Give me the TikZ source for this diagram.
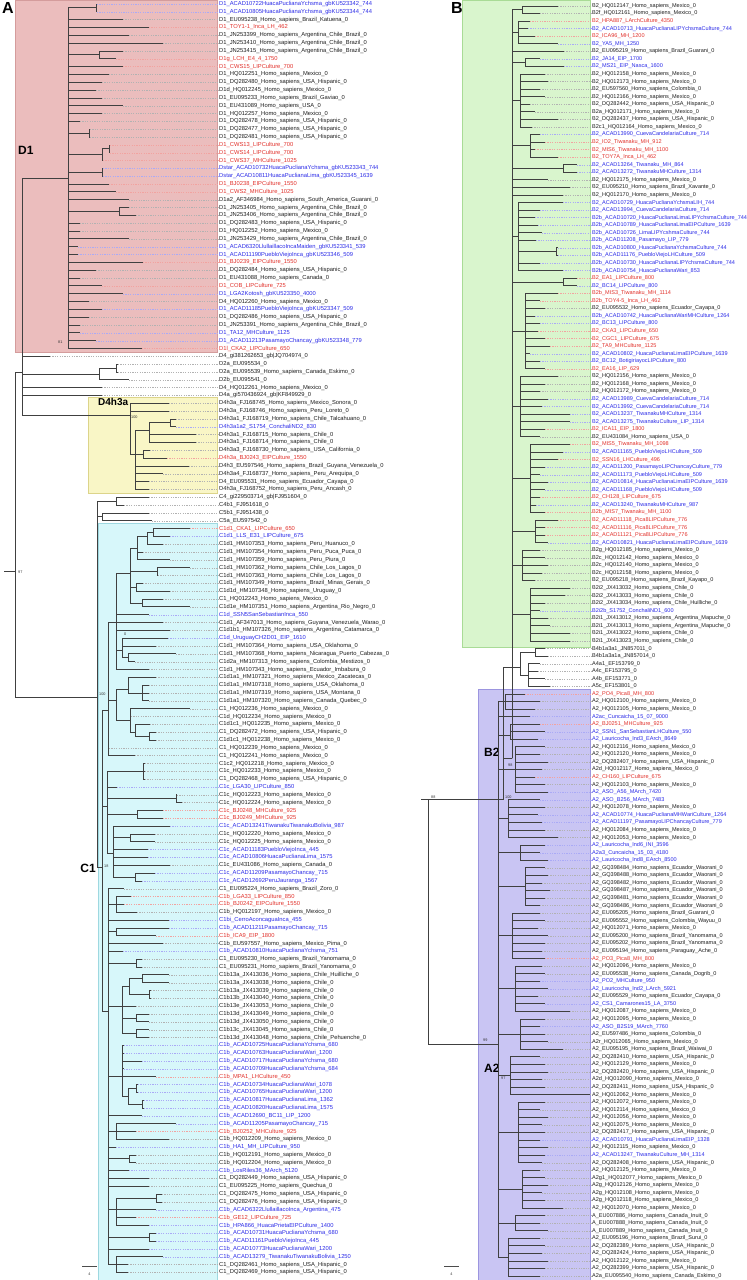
\documentclass[tikz,border=0pt]{standalone}
\usepackage{fontspec}
\setmainfont{Liberation Sans}
\definecolor{labr}{HTML}{E2322C}
\definecolor{labb}{HTML}{2B2BE8}
\definecolor{labk}{HTML}{1E1E1E}
\colorlet{leadr}{labr!45}
\colorlet{leadb}{labb!40}
\colorlet{leadk}{black!30}
\definecolor{pinkF}{HTML}{EBBDBD}\definecolor{pinkD}{HTML}{D49C9C}
\definecolor{yelF}{HTML}{F9F6C6}\definecolor{yelD}{HTML}{DCD48A}
\definecolor{cyanF}{HTML}{D7F7FA}\definecolor{cyanD}{HTML}{9ED8E0}
\definecolor{greenF}{HTML}{D9F5CD}\definecolor{greenD}{HTML}{A9DB96}
\definecolor{purpF}{HTML}{C9C5F3}\definecolor{purpD}{HTML}{9C95DF}
\tikzset{
 br/.style={draw=black!75, line width=0.85pt},
 lead/.style={line width=0.35pt, dash pattern=on 1.2pt off 1.2pt},
 lblL/.style={anchor=west, inner sep=0pt, font=\fontsize{5.8}{6}\selectfont},
 lblR/.style={anchor=west, inner sep=0pt, font=\fontsize{5.55}{6}\selectfont},
 boot/.style={inner sep=0pt, anchor=west, font=\fontsize{3.8}{4}\selectfont, text=black!80},
 clade/.style={inner sep=0pt, font=\fontsize{12}{12}\selectfont\bfseries},
 panel/.style={inner sep=0pt, anchor=north west, font=\fontsize{16}{16}\selectfont\bfseries},
 boxline/.style={line width=0.4pt}
}
\newcommand\kids[2]{\foreach \cc in {#2}{\draw[br] (#1) |- (\cc);}}
\newcommand\kidsr[3]{\foreach \ii in {#2,...,#3}{\draw[br] (#1) |- (RL\ii);}}
\begin{document}
\catcode`\_=12
\begin{tikzpicture}
\fill[white] (0pt,0pt) rectangle (747pt,1280pt);
\useasboundingbox (0pt,0pt) rectangle (747pt,1280pt);
% ---------- boxes and big labels (pixel coordinates) ----------
\begin{scope}[x=1pt,y=-1pt,yshift=1280pt]
\filldraw[boxline, fill=pinkF, draw=pinkD] (15,0) rectangle (217,352);
\filldraw[boxline, fill=yelF, draw=yelD] (88,397) rectangle (217,493);
\filldraw[boxline, fill=cyanF, draw=cyanD] (98,523) rectangle (217,1280);
\filldraw[boxline, fill=greenF, draw=greenD] (462,0) rectangle (590,647);
\filldraw[boxline, fill=purpF, draw=purpD] (478,689) rectangle (590,1280);
\node[panel] (pA) at (2,2) {A};
\node[panel] (pB) at (451,2) {B};
\node[clade, anchor=west] (cD1) at (18,150) {D1};
\node[clade, anchor=west, font=\fontsize{10}{10}\selectfont\bfseries] (cD4) at (98,402) {D4h3a};
\node[clade, anchor=east] (cC1) at (96,868) {C1};
\node[clade, anchor=west] (cB2) at (484,752) {B2};
\node[clade, anchor=west] (cA2) at (484,1068) {A2};
\node[boot] (b81) at (58,342) {81};
\node[boot] (b100a) at (131,417) {100};
\node[boot] (b97a) at (18,572) {97};
\node[boot] (b100b) at (99,694) {100};
\node[boot] (b18) at (104,866) {18};
\node[boot] (b0) at (124,634) {0};
\node[boot] (b98) at (508,765) {98};
\node[boot] (b100c) at (505,797) {100};
\node[boot] (b88) at (431,797) {88};
\node[boot] (b99) at (483,1040) {99};
\node[boot] (b97b) at (501,1078) {97};
\coordinate (sL1) at (82,1266); \coordinate (sL2) at (97,1266);
\draw[line width=0.6pt, black!70] (sL1) -- (sL2);
\node[boot, anchor=center] (sL) at (89.5,1274) {4};
\coordinate (sR1) at (444,1266); \coordinate (sR2) at (459,1266);
\draw[line width=0.6pt, black!70] (sR1) -- (sR2);
\node[boot, anchor=center] (sR) at (451.5,1274) {4};
\end{scope}
% ---------- LEFT TREE ----------
\begin{scope}[x=1pt,y=-7.83pt,yshift=1283.83pt]
\foreach \k/\t/\cl/\s in {
1/97/b/D1_ACAD10722HuacaPuclianaYchsma_gbKU523342_744,
2/97/b/D1_ACAD10805HuacaPuclianaYchsma_gbKU523344_744,
3/123/k/D1_EU095238_Homo_sapiens_Brazil_Katuena_0,
4/149/r/D1_TOY1-1_Inca_LH_462,
5/129/k/D1_JN253399_Homo_sapiens_Argentina_Chile_Brazil_0,
6/163/k/D1_JN253410_Homo_sapiens_Argentina_Chile_Brazil_0,
7/123/k/D1_JN253415_Homo_sapiens_Argentina_Chile_Brazil_0,
8/116/r/D1g_LCH_E4_4_1750,
9/123/r/D1_CWS15_LIPCulture_700,
10/109/k/D1_HQ012251_Homo_sapiens_Mexico_0,
11/102/k/D1_DQ282480_Homo_sapiens_USA_Hispanic_0,
12/96/k/D1d_HQ012245_Homo_sapiens_Mexico_0,
13/102/k/D1_EU095233_Homo_sapiens_Brazil_Gaviao_0,
14/123/k/D1_EU431089_Homo_sapiens_USA_0,
15/102/k/D1_HQ012257_Homo_sapiens_Mexico_0,
16/80/k/D1_DQ282478_Homo_sapiens_USA_Hispanic_0,
17/90/k/D1_DQ282477_Homo_sapiens_USA_Hispanic_0,
18/90/k/D1_DQ282481_Homo_sapiens_USA_Hispanic_0,
19/110/r/D1_CWS13_LIPCulture_700,
20/110/r/D1_CWS14_LIPCulture_700,
21/103/r/D1_CWS37_MHCulture_1025,
22/103/b/Dstar_ACAD10732HuacaPuclianaYchsma_gbKU523343_744,
23/103/b/Dstar_ACAD10811HuacaPuclianaLima_gbKU523345_1639,
24/109/r/D1_BJ0238_EIPCulture_1550,
25/116/r/D1_CWS2_MHCulture_1025,
26/129/k/D1a2_AF346984_Homo_sapiens_South_America_Guarani_0,
27/129/k/D1_JN253405_Homo_sapiens_Argentina_Chile_Brazil_0,
28/136/k/D1_JN253406_Homo_sapiens_Argentina_Chile_Brazil_0,
29/80/k/D1_DQ282483_Homo_sapiens_USA_Hispanic_0,
30/80/k/D1_HQ012252_Homo_sapiens_Mexico_0,
31/129/k/D1_JN253429_Homo_sapiens_Argentina_Chile_Brazil_0,
32/78/b/D1_ACAD6320LlullaillacoIncaMaiden_gbKU523341_539,
33/78/b/D1_ACAD11190PuebloViejoInca_gbKU523346_509,
34/143/r/D1_BJ0239_EIPCulture_1550,
35/96/k/D1_DQ282484_Homo_sapiens_USA_Hispanic_0,
36/80/k/D1_EU431088_Homo_sapiens_Canada_0,
37/102/r/D1_COB_LIPCulture_725,
38/123/b/D1_LGA2Kotosh_gbKU523350_4000,
39/89/k/D4_HQ012260_Homo_sapiens_Mexico_0,
40/102/b/D1_ACAD11185PuebloViejoInca_gbKU523347_509,
41/89/k/D1_DQ282486_Homo_sapiens_USA_Hispanic_0,
42/80/k/D1_JN253391_Homo_sapiens_Argentina_Chile_Brazil_0,
43/80/b/D1_TA12_MHCulture_1125,
44/96/b/D1_ACAD11213PasamayoChancay_gbKU523348_779,
45/142/r/D1l_CKA2_LIPCulture_650,
46/50/k/D4_gi381262653_gb|JQ704974_0,
47/118/k/D2a_EU095534_0,
48/118/k/D2a_EU095539_Homo_sapiens_Canada_Eskimo_0,
49/129/k/D2b_EU095541_0,
50/102/k/D4_HQ012261_Homo_sapiens_Mexico_0,
51/102/k/D4a_gi570436924_gb|KF849929_0,
52/169/k/D4h3a_FJ168745_Homo_sapiens_Mexico_Sonora_0,
53/169/k/D4h3a_FJ168746_Homo_sapiens_Peru_Loreto_0,
54/176/k/D4h3a1_FJ168719_Homo_sapiens_Chile_Talcahuano_0,
55/176/b/D4h3a1a2_S1754_ConchaliND2_830,
56/196/k/D4h3a1_FJ168715_Homo_sapiens_Chile_0,
57/196/k/D4h3a1_FJ168714_Homo_sapiens_Chile_0,
58/150/k/D4h3a3_FJ168730_Homo_sapiens_USA_California_0,
59/167/r/D4h3a_BJ0243_EIPCulture_1550,
60/189/k/D4h3_EU597546_Homo_sapiens_Brazil_Guyana_Venezuela_0,
61/163/k/D4h3a4_FJ168737_Homo_sapiens_Peru_Arequipa_0,
62/149/k/D4_EU095531_Homo_sapiens_Ecuador_Cayapa_0,
63/149/k/D4h3a_FJ168752_Homo_sapiens_Peru_Ancash_0,
64/149/k/C4_gi229503714_gb|FJ951604_0,
65/124/k/C4b1_FJ951618_0,
66/149/k/C5b1_FJ951438_0,
67/152/k/C5a_EU597542_0,
68/190/r/C1d1_CKA1_LIPCulture_650,
69/170/b/C1d1_LLS_E31_LIPCulture_675,
70/163/k/C1d1_HM107353_Homo_sapiens_Peru_Huanuco_0,
71/143/k/C1d1_HM107354_Homo_sapiens_Peru_Puca_Puca_0,
72/170/k/C1d1_HM107359_Homo_sapiens_Peru_Piura_0,
73/190/k/C1d1_HM107362_Homo_sapiens_Chile_Los_Lagos_0,
74/158/k/C1d1_HM107363_Homo_sapiens_Chile_Los_Lagos_0,
75/143/k/C1d1_HM107349_Homo_sapiens_Brazil_Minas_Gerais_0,
76/170/k/C1d1d_HM107348_Homo_sapiens_Uruguay_0,
77/163/k/C1_HQ012243_Homo_sapiens_Mexico_0,
78/190/k/C1d1e_HM107351_Homo_sapiens_Argentina_Rio_Negro_0,
79/149/b/C1d_SSN5SanSebastianInca_550,
80/163/k/C1d1_AF347013_Homo_sapiens_Guyana_Venezuela_Warao_0,
81/170/k/C1d1b1_HM107326_Homo_sapiens_Argentina_Catamarca_0,
82/168/b/C1d_UruguayCH2D01_EIP_1610,
83/156/k/C1d1_HM107364_Homo_sapiens_USA_Oklahoma_0,
84/176/k/C1d1_HM107368_Homo_sapiens_Nicaragua_Puerto_Cabezas_0,
85/135/k/C1d2a_HM107313_Homo_sapiens_Colombia_Mestizos_0,
86/149/k/C1d1_HM107343_Homo_sapiens_Ecuador_Imbabura_0,
87/156/k/C1d1a1_HM107321_Homo_sapiens_Mexico_Zacatecas_0,
88/149/k/C1d1a1_HM107318_Homo_sapiens_USA_Oklahoma_0,
89/149/k/C1d1a1_HM107319_Homo_sapiens_USA_Montana_0,
90/149/k/C1d1a1_HM107320_Homo_sapiens_Canada_Quebec_0,
91/190/k/C1_HQ012236_Homo_sapiens_Mexico_0,
92/131/k/C1d_HQ012234_Homo_sapiens_Mexico_0,
93/150/k/C1d1c1_HQ012235_Homo_sapiens_Mexico_0,
94/156/k/C1_DQ282472_Homo_sapiens_USA_Hispanic_0,
95/156/k/C1d1c1_HQ012238_Homo_sapiens_Mexico_0,
96/109/k/C1_HQ012239_Homo_sapiens_Mexico_0,
97/135/k/C1_HQ012241_Homo_sapiens_Mexico_0,
98/145/k/C1c2_HQ012218_Homo_sapiens_Mexico_0,
99/145/k/C1c_HQ012233_Homo_sapiens_Mexico_0,
100/145/k/C1_DQ282468_Homo_sapiens_USA_Hispanic_0,
101/117/b/C1c_LGA30_LIPCulture_850,
102/177/k/C1c_HQ012223_Homo_sapiens_Mexico_0,
103/182/k/C1c_HQ012224_Homo_sapiens_Mexico_0,
104/163/r/C1c_BJ0248_MHCulture_925,
105/163/r/C1c_BJ0249_MHCulture_925,
106/170/b/C1c_ACAD13241TiwanakuTiwanakuBolivia_987,
107/155/k/C1c_HQ012220_Homo_sapiens_Mexico_0,
108/155/k/C1c_HQ012225_Homo_sapiens_Mexico_0,
109/148/b/C1c_ACAD11183PuebloViejoInca_445,
110/148/b/C1c_ACAD10806HuacaPuclianaLima_1575,
111/170/k/C1c_EU431086_Homo_sapiens_Canada_0,
112/155/b/C1c_ACAD11209PasamayoChancay_715,
113/142/b/C1c_ACAD12692PeruJauranga_1567,
114/124/k/C1_EU095224_Homo_sapiens_Brazil_Zoro_0,
115/131/r/C1b_LGA33_LIPCulture_850,
116/124/r/C1b_BJ0242_EIPCulture_1550,
117/137/k/C1b_HQ012197_Homo_sapiens_Mexico_0,
118/169/b/C1bi_CerroAconcaguaInca_455,
119/169/b/C1b_ACAD11211PasamayoChancay_715,
120/156/r/C1b_ICA9_EIP_1800,
121/163/k/C1b_EU597557_Homo_sapiens_Mexico_Pima_0,
122/123/b/C1b_ACAD10810HuacaPuclianaYchsma_751,
123/142/k/C1_EU095230_Homo_sapiens_Brazil_Yanomama_0,
124/142/k/C1_EU095231_Homo_sapiens_Brazil_Yanomama_0,
125/169/k/C1b13a_JX413036_Homo_sapiens_Chile_Huilliche_0,
126/169/k/C1b13a_JX413038_Homo_sapiens_Chile_0,
127/151/k/C1b13a_JX413039_Homo_sapiens_Chile_0,
128/151/k/C1b13b_JX413040_Homo_sapiens_Chile_0,
129/136/k/C1b13e_JX413053_Homo_sapiens_Chile_0,
130/149/k/C1b13d_JX413049_Homo_sapiens_Chile_0,
131/149/k/C1b13d_JX413050_Homo_sapiens_Chile_0,
132/149/k/C1b13c_JX413045_Homo_sapiens_Chile_0,
133/149/k/C1b13d_JX413048_Homo_sapiens_Chile_Pehuenche_0,
134/124/b/C1b_ACAD10725HuacaPuclianaYchsma_680,
135/124/b/C1b_ACAD10763HuacaPuclianaWari_1200,
136/142/b/C1b_ACAD10717HuacaPuclianaYchsma_680,
137/124/b/C1b_ACAD10709HuacaPuclianaYchsma_684,
138/156/r/C1b_MPA1_LHCulture_450,
139/138/b/C1b_ACAD10734HuacaPuclianaWari_1078,
140/138/b/C1b_ACAD10765HuacaPuclianaWari_1200,
141/144/b/C1b_ACAD10817HuacaPuclianaLima_1362,
142/144/b/C1b_ACAD10820HuacaPuclianaLima_1575,
143/142/b/C1b_ACAD12690_BC11_LIP_1200,
144/176/b/C1b_ACAD11205PasamayoChancay_715,
145/136/r/C1b_BJ0252_MHCulture_925,
146/169/k/C1b_HQ012209_Homo_sapiens_Mexico_0,
147/116/b/C1b_HA1_MH_LIPCulture_950,
148/136/k/C1b_HQ012191_Homo_sapiens_Mexico_0,
149/136/k/C1b_HQ012204_Homo_sapiens_Mexico_0,
150/129/b/C1b_LosRiles36_MArch_5120,
151/149/k/C1_DQ282449_Homo_sapiens_USA_Hispanic_0,
152/149/k/C1_EU095225_Homo_sapiens_Quechua_0,
153/162/k/C1_DQ282475_Homo_sapiens_USA_Hispanic_0,
154/162/k/C1_DQ282476_Homo_sapiens_USA_Hispanic_0,
155/156/b/C1b_ACAD6322LlullaillacoInca_Argentina_475,
156/136/r/C1b_GE12_LIPCulture_725,
157/149/b/C1b_HPA866_HuacaPrietaEIPCulture_1400,
158/156/b/C1b_ACAD10731HuacaPuclianaYchsma_680,
159/156/b/C1b_ACAD11161PuebloViejoInca_445,
160/149/b/C1b_ACAD10773HuacaPuclianaWari_1200,
161/163/b/C1b_ACAD13279_TiwanakuTiwanakuBolivia_1250,
162/128/k/C1_DQ282461_Homo_sapiens_USA_Hispanic_0,
163/128/k/C1_DQ282469_Homo_sapiens_USA_Hispanic_0}{
  \coordinate (L\k) at (\t,\k);
  \node[lblL, text=lab\cl] (T\k) at (219,\k) {\s};
  \draw[lead, draw=lead\cl] (L\k) -- (T\k.west);
}
\coordinate (R0) at (4,73.5);
\coordinate (R) at (15,73.5);
\coordinate (ND) at (22,48);
\coordinate (ND1) at (68,23.25);
\coordinate (P12) at (96,1.5);
\coordinate (P78) at (99,7.5);
\coordinate (P1718) at (89,17.5);
\coordinate (T1921) at (102,20.25);
\coordinate (P1920) at (109,19.5);
\coordinate (P2223) at (102,22.5);
\coordinate (P2728) at (119,27.5);
\coordinate (ND2) at (99,48.25);
\coordinate (P4748) at (116,47.5);
\coordinate (NDh) at (130,53.5);
\coordinate (Dh1) at (135,58.5);
\coordinate (Dh2) at (149,55.5);
\coordinate (Dh2a) at (170,54.5);
\coordinate (Dh3) at (143,58.5);
\coordinate (NC) at (97,89.5);
\coordinate (NC4) at (116,64.5);
\coordinate (NC5) at (102,66.5);
\coordinate (NC1) at (102,111.3);
\coordinate (Cd0) at (108,91.2);
\coordinate (Cd1) at (116,80);
\coordinate (Cd2) at (130,73.75);
\coordinate (Cd2a) at (137,70.5);
\coordinate (Cd2b) at (147,69);
\coordinate (Cd2c) at (153,68.5);
\coordinate (Cd2d) at (157,73.5);
\coordinate (Cd2e) at (136,75.5);
\coordinate (Cd2f) at (142,77.5);
\coordinate (Cd3) at (122,83.5);
\coordinate (Cd3a) at (128,84.5);
\coordinate (Cd5) at (116,90);
\coordinate (Cd4) at (128,88.5);
\coordinate (Cd4a) at (142,89);
\coordinate (Cd6) at (130,92.5);
\coordinate (Cd6a) at (135,94);
\coordinate (Cd6b) at (149,94.5);
\coordinate (NC1c) at (107,103.5);
\coordinate (Cc1) at (143,99);
\coordinate (Cc2) at (176,102.5);
\coordinate (Cc3) at (137,104.5);
\coordinate (Cc4) at (113,109.5);
\coordinate (Cc4a) at (130,107.5);
\coordinate (Cc4b) at (135,112.5);
\coordinate (NCb) at (108,129.7);
\coordinate (Cb1) at (116,116);
\coordinate (Cb2) at (116,119.5);
\coordinate (Cb3) at (136,123.5);
\coordinate (C13) at (122,129);
\coordinate (C13a) at (129,126.5);
\coordinate (C13aa) at (142,125.5);
\coordinate (C13ab) at (149,127.5);
\coordinate (C13c) at (136,130.5);
\coordinate (C13d) at (136,132.5);
\coordinate (C1bW) at (122,138);
\coordinate (C1bW2) at (128,140.5);
\coordinate (Pw1) at (136,139.5);
\coordinate (Pw2) at (142,141.5);
\coordinate (Cb4) at (116,145);
\coordinate (Cb5) at (129,148.5);
\coordinate (Cb6) at (116,155);
\coordinate (Cb6a) at (156,153.5);
\coordinate (Cb7) at (149,158.5);
\coordinate (Cb8) at (116,162);
\draw[br] (R0) -- (R);
\kids{R}{ND,NC}
\kids{ND}{ND1,L46,ND2,L50,L51,NDh}
\kids{ND1}{P12,L3,L4,L5,L6,P78,L9,L10,L11,L12,L13,L14,L15,L16,P1718,T1921,P2223,L24,L25,L26,P2728,L29,L30,L31,L32,L33,L34,L35,L36,L37,L38,L39,L40,L41,L42,L43,L44,L45}
\kids{P12}{L1,L2}
\kids{P78}{L7,L8}
\kids{P1718}{L17,L18}
\kids{T1921}{P1920,L21}
\kids{P1920}{L19,L20}
\kids{P2223}{L22,L23}
\kids{P2728}{L27,L28}
\kids{ND2}{P4748,L49}
\kids{P4748}{L47,L48}
\kids{NDh}{L52,L53,Dh1}
\kids{Dh1}{Dh2,Dh3,L60,L61,L62,L63}
\kids{Dh2}{Dh2a,L56,L57}
\kids{Dh2a}{L54,L55}
\kids{Dh3}{L58,L59}
\kids{NC}{NC4,NC5,NC1}
\kids{NC4}{L64,L65}
\kids{NC5}{L66,L67}
\kids{NC1}{Cd0,NC1c,NCb}
\kids{Cd0}{Cd1,Cd5,L96,L97}
\kids{Cd1}{Cd2,L79,L80,L81,Cd3,L86}
\kids{Cd2}{Cd2a,Cd2d,Cd2e,Cd2f}
\kids{Cd2a}{Cd2b,L71,L72}
\kids{Cd2b}{Cd2c,L70}
\kids{Cd2c}{L68,L69}
\kids{Cd2d}{L73,L74}
\kids{Cd2e}{L75,L76}
\kids{Cd2f}{L77,L78}
\kids{Cd3}{L82,L83,Cd3a}
\kids{Cd3a}{L84,L85}
\kids{Cd5}{Cd4,Cd6}
\kids{Cd4}{L87,Cd4a}
\kids{Cd4a}{L88,L89,L90}
\kids{Cd6}{L91,L92,Cd6a}
\kids{Cd6a}{L93,Cd6b}
\kids{Cd6b}{L94,L95}
\kids{NC1c}{Cc1,L101,Cc2,Cc3,Cc4}
\kids{Cc1}{L98,L99,L100}
\kids{Cc2}{L102,L103}
\kids{Cc3}{L104,L105}
\kids{Cc4}{L106,Cc4a,L109,L110,L111,Cc4b}
\kids{Cc4a}{L107,L108}
\kids{Cc4b}{L112,L113}
\kids{NCb}{L114,Cb1,L118,Cb2,L121,L122,Cb3,C13,C1bW,L143,Cb4,L147,Cb5,L150,L151,L152,Cb6,Cb7,L160,Cb8}
\kids{Cb1}{L115,L116,L117}
\kids{Cb2}{L119,L120}
\kids{Cb3}{L123,L124}
\kids{C13}{C13a,L129,C13c,C13d}
\kids{C13a}{C13aa,C13ab}
\kids{C13aa}{L125,L126}
\kids{C13ab}{L127,L128}
\kids{C13c}{L130,L131}
\kids{C13d}{L132,L133}
\kids{C1bW}{L134,L135,L136,L137,L138,C1bW2}
\kids{C1bW2}{Pw1,Pw2}
\kids{Pw1}{L139,L140}
\kids{Pw2}{L141,L142}
\kids{Cb4}{L144,L145,L146}
\kids{Cb5}{L148,L149}
\kids{Cb6}{Cb6a,L155,L156,L157}
\kids{Cb6a}{L153,L154}
\kids{Cb7}{L158,L159}
\kids{Cb8}{L161,L162,L163}
\end{scope}
% ---------- RIGHT TREE ----------
\begin{scope}[x=1pt,y=-7.56pt,yshift=1281.56pt]
\foreach \k/\t/\cl/\s in {
1/558/k/B2_HQ012147_Homo_sapiens_Mexico_0,
2/540/k/B2f_HQ012161_Homo_sapiens_Mexico_0,
3/530/r/B2_HPA887_LArchCulture_4350,
4/528/b/B2_ACAD10713_HuacaPuclianaLIPYchsmaCulture_744,
5/535/r/B2_ICA96_MH_1200,
6/558/b/B2_YA5_MH_1250,
7/564/k/B2_EU095219_Homo_sapiens_Brazil_Guarani_0,
8/540/b/B2_JA14_EIP_1700,
9/564/b/B2_MS21_EIP_Nasca_1600,
10/545/k/B2_HQ012158_Homo_sapiens_Mexico_0,
11/548/k/B2_HQ012173_Homo_sapiens_Mexico_0,
12/540/k/B2_EU597560_Homo_sapiens_Colombia_0,
13/545/k/B2_HQ012166_Homo_sapiens_Mexico_0,
14/530/k/B2_DQ282442_Homo_sapiens_USA_Hispanic_0,
15/535/k/B2a_HQ012171_Homo_sapiens_Mexico_0,
16/558/k/B2_DQ282437_Homo_sapiens_USA_Hispanic_0,
17/532/k/B2c1_HQ012164_Homo_sapiens_Mexico_0,
18/540/b/B2_ACAD13990_CuevaCandelariaCulture_714,
19/545/r/B2_IO2_Tiwanaku_MH_912,
20/535/r/B2_MIS6_Tiwanaku_MH_1100,
21/558/r/B2_TOY7A_Inca_LH_462,
22/577/b/B2_ACAD13264_Tiwanaku_MH_864,
23/577/b/B2_ACAD13272_TiwanakuMHCulture_1314,
24/548/k/B2_HQ012175_Homo_sapiens_Mexico_0,
25/570/k/B2_EU095210_Homo_sapiens_Brazil_Xavante_0,
26/563/k/B2_HQ012170_Homo_sapiens_Mexico_0,
27/563/b/B2_ACAD10729_HuacaPuclianaYchsmaLIH_744,
28/540/b/B2_ACAD13994_CuevaCandelariaCulture_714,
29/535/b/B2b_ACAD10720_HuacaPuclianaLimaLIPYchsmaCulture_744,
30/538/b/B2b_ACAD10789_HuacaPuclianaLimaEIPCulture_1639,
31/542/b/B2b_ACAD10726_LimaLIPYcshmaCulture_744,
32/536/b/B2b_ACAD11208_Pasamayo_LIP_779,
33/558/b/B2b_ACAD10800_HuacaPuclianaYchsmaCulture_744,
34/558/b/B2b_ACAD11176_PuebloViejoLHCulture_509,
35/540/b/B2b_ACAD10730_HuacaPuclianaLIPYchsmaCulture_744,
36/563/b/B2b_ACAD10754_HuacaPuclianaWari_853,
37/577/r/B2_EA1_LIPCulture_800,
38/577/b/B2_BC14_LIPCulture_800,
39/558/r/B2b_MIS3_Tiwanaku_MH_1114,
40/540/r/B2b_TOY4-5_Inca_LH_462,
41/545/k/B2_EU095532_Homo_sapiens_Ecuador_Cayapa_0,
42/535/b/B2b_ACAD10742_HuacaPuclianaWariMHCulture_1264,
43/540/b/B2_BC13_LIPCulture_800,
44/538/r/B2_CKA3_LIPCulture_650,
45/545/r/B2_CGC1_LIPCulture_675,
46/550/r/B2_TA9_MHCulture_1125,
47/530/b/B2_ACAD10802_HuacaPuclianaLimaEIPCulture_1639,
48/540/b/B2_BC12_BotigiriayocLIPCulture_800,
49/545/r/B2_EA16_LIP_629,
50/558/k/B2_HQ012156_Homo_sapiens_Mexico_0,
51/545/k/B2_HQ012168_Homo_sapiens_Mexico_0,
52/540/k/B2_HQ012172_Homo_sapiens_Mexico_0,
53/548/b/B2_ACAD13989_CuevaCandelariaCulture_714,
54/542/b/B2_ACAD13992_CuevaCandelariaCulture_714,
55/570/b/B2_ACAD13237_TiwanakuMHCulture_1314,
56/570/b/B2_ACAD13275_TiwanakuCulture_LIP_1314,
57/545/r/B2_ICA11_EIP_1800,
58/540/k/B2_EU431084_Homo_sapiens_USA_0,
59/570/r/B2_MIS5_Tiwanaku_MH_1098,
60/563/b/B2_ACAD11165_PuebloViejoLHCulture_509,
61/558/r/B2_SSN16_LHCulture_496,
62/545/b/B2_ACAD11200_PasamayoLIPChancayCulture_779,
63/540/b/B2_ACAD11173_PuebloViejoLHCulture_509,
64/548/b/B2_ACAD10814_HuacaPuclianaLimaEIPCulture_1639,
65/545/b/B2_ACAD11168_PuebloViejoLHCulture_509,
66/540/r/B2_CH128_LIPCulture_675,
67/536/b/B2_ACAD13240_TiwanakuMHCulture_987,
68/545/r/B2b_MIS7_Tiwanaku_MH_1100,
69/558/r/B2_ACAD11118_Pica8LIPCulture_776,
70/545/r/B2_ACAD11116_Pica8LIPCulture_776,
71/545/r/B2_ACAD11121_Pica8LIPCulture_776,
72/548/b/B2_ACAD10821_HuacaPuclianaLimaEIPCulture_1639,
73/540/k/B2g_HQ012185_Homo_sapiens_Mexico_0,
74/545/k/B2c_HQ012142_Homo_sapiens_Mexico_0,
75/548/k/B2c_HQ012140_Homo_sapiens_Mexico_0,
76/542/k/B2c_HQ012158_Homo_sapiens_Mexico_0,
77/535/k/B2_EU095218_Homo_sapiens_Brazil_Kayapo_0,
78/570/k/B2i2_JX413032_Homo_sapiens_Chile_0,
79/565/k/B2i2_JX413033_Homo_sapiens_Chile_0,
80/545/k/B2i2_JX413034_Homo_sapiens_Chile_Huilliche_0,
81/540/b/B2i2b_S1752_ConchaliND1_600,
82/548/k/B2i1_JX413012_Homo_sapiens_Argentina_Mapuche_0,
83/550/k/B2i1_JX413013_Homo_sapiens_Argentina_Mapuche_0,
84/570/k/B2i1_JX413022_Homo_sapiens_Chile_0,
85/570/k/B2i1_JX413023_Homo_sapiens_Chile_0,
86/545/k/B4b1a3a1_JN857011_0,
87/548/k/B4b1a3a1a_JN857014_0,
88/540/k/A4a1_EF153799_0,
89/538/k/A4c_EF153795_0,
90/545/k/A4b_EF153771_0,
91/550/k/A5c_EF153801_0,
92/525/r/A2_PO4_Pica8_MH_800,
93/540/k/A2_HQ012100_Homo_sapiens_Mexico_0,
94/535/k/A2_HQ012105_Homo_sapiens_Mexico_0,
95/530/b/A2ac_Cuncaicha_15_07_9000,
96/540/r/A2_BJ0251_MHCulture_925,
97/545/b/A2_SSN1_SanSebastianLHCulture_550,
98/538/b/A2_Lauricocha_Ind3_EArch_8649,
99/545/k/A2_HQ012116_Homo_sapiens_Mexico_0,
100/540/k/A2_HQ012120_Homo_sapiens_Mexico_0,
101/548/k/A2_DQ282407_Homo_sapiens_USA_Hispanic_0,
102/542/k/A2d_HQ012117_Homo_sapiens_Mexico_0,
103/535/r/A2_CH160_LIPCulture_675,
104/545/k/A2_HQ012103_Homo_sapiens_Mexico_0,
105/548/b/A2_ASO_A56_MArch_7420,
106/540/b/A2_ASO_B256_MArch_7483,
107/545/k/A2_HQ012078_Homo_sapiens_Mexico_0,
108/538/b/A2_ACAD10774_HuacaPuclianaMHWariCulture_1264,
109/542/b/A2_ACAD11197_PasamayoLIPChancayCulture_779,
110/545/k/A2_HQ012084_Homo_sapiens_Mexico_0,
111/558/k/A2_HQ012053_Homo_sapiens_Mexico_0,
112/545/b/A2_Lauricocha_Ind6_INI_3596,
113/540/b/A2a3_Cuncaicha_15_03_4180,
114/548/b/A2_Lauricocha_Ind8_EArch_8500,
115/545/k/A2_GQ398484_Homo_sapiens_Ecuador_Waorani_0,
116/548/k/A2_GQ398488_Homo_sapiens_Ecuador_Waorani_0,
117/542/k/A2_GQ398482_Homo_sapiens_Ecuador_Waorani_0,
118/550/k/A2_GQ398487_Homo_sapiens_Ecuador_Waorani_0,
119/545/k/A2_GQ398481_Homo_sapiens_Ecuador_Waorani_0,
120/540/k/A2_GQ398486_Homo_sapiens_Ecuador_Waorani_0,
121/540/k/A2_EU095205_Homo_sapiens_Brazil_Guarani_0,
122/545/k/A2_EU095552_Homo_sapiens_Colombia_Wayuu_0,
123/538/k/A2_HQ012071_Homo_sapiens_Mexico_0,
124/548/k/A2_EU095200_Homo_sapiens_Brazil_Yanomama_0,
125/545/k/A2_EU095202_Homo_sapiens_Brazil_Yanomama_0,
126/542/k/A2_EU095194_Homo_sapiens_Paraguay_Ache_0,
127/545/r/A2_PO3_Pica8_MH_800,
128/542/k/A2_HQ012096_Homo_sapiens_Mexico_0,
129/545/k/A2_EU095538_Homo_sapiens_Canada_Dogrib_0,
130/540/b/A2_PO2_MHCulture_950,
131/548/b/A2_Lauricocha_Ind2_LArch_5921,
132/538/k/A2_EU095529_Homo_sapiens_Ecuador_Cayapa_0,
133/545/b/A2_CS1_Camarones15_LA_3750,
134/570/k/A2_HQ012087_Homo_sapiens_Mexico_0,
135/545/k/A2_HQ012095_Homo_sapiens_Mexico_0,
136/540/b/A2_ASO_B2S19_MArch_7760,
137/545/k/A2_EU597486_Homo_sapiens_Colombia_0,
138/548/k/A2r_HQ012065_Homo_sapiens_Mexico_0,
139/563/k/A2_EU095195_Homo_sapiens_Brazil_Waiwai_0,
140/540/k/A2_DQ282410_Homo_sapiens_USA_Hispanic_0,
141/545/k/A2_HQ012129_Homo_sapiens_Mexico_0,
142/548/k/A2_DQ282420_Homo_sapiens_USA_Hispanic_0,
143/542/k/A2d_HQ012090_Homo_sapiens_Mexico_0,
144/545/k/A2_DQ282411_Homo_sapiens_USA_Hispanic_0,
145/590/k/A2_HQ012062_Homo_sapiens_Mexico_0,
146/545/k/A2_HQ012072_Homo_sapiens_Mexico_0,
147/540/k/A2_HQ012114_Homo_sapiens_Mexico_0,
148/548/k/A2_HQ012056_Homo_sapiens_Mexico_0,
149/542/k/A2_HQ012075_Homo_sapiens_Mexico_0,
150/545/k/A2_DQ282417_Homo_sapiens_USA_Hispanic_0,
151/540/b/A2_ACAD10791_HuacaPuclianaLimaEIP_1328,
152/548/k/A2_HQ012115_Homo_sapiens_Mexico_0,
153/545/b/A2_ACAD13247_TiwanakuCulture_MH_1314,
154/542/k/A2_DQ282408_Homo_sapiens_USA_Hispanic_0,
155/540/k/A2_HQ012125_Homo_sapiens_Mexico_0,
156/545/k/A2g1_HQ012077_Homo_sapiens_Mexico_0,
157/548/k/A2g_HQ012126_Homo_sapiens_Mexico_0,
158/542/k/A2g_HQ012108_Homo_sapiens_Mexico_0,
159/545/k/A2g_HQ012118_Homo_sapiens_Mexico_0,
160/563/k/A2_HQ012070_Homo_sapiens_Mexico_0,
161/545/k/A_EU007886_Homo_sapiens_Canada_Inuit_0,
162/540/k/A_EU007888_Homo_sapiens_Canada_Inuit_0,
163/548/k/A_EU007889_Homo_sapiens_Canada_Inuit_0,
164/540/k/A2_EU095196_Homo_sapiens_Brazil_Surui_0,
165/545/k/A2_DQ282389_Homo_sapiens_USA_Hispanic_0,
166/542/k/A2_DQ282424_Homo_sapiens_USA_Hispanic_0,
167/548/k/A2_HQ012122_Homo_sapiens_Mexico_0,
168/545/k/A2_DQ282399_Homo_sapiens_USA_Hispanic_0,
169/540/k/A2a_EU095540_Homo_sapiens_Canada_Eskimo_0}{
  \coordinate (RL\k) at (\t,\k);
  \node[lblR, text=lab\cl] (RT\k) at (592,\k) {\s};
  \draw[lead, draw=lead\cl] (RL\k) -- (RT\k.west);
}
\coordinate (rR0) at (421,106);
\coordinate (rR) at (428,106);
\coordinate (rN100) at (503,106);
\coordinate (rB2) at (512,100.5);
\coordinate (rOut) at (520,88.5);
\coordinate (rB4) at (535,86.5);
\coordinate (rA4) at (528,89.5);
\coordinate (rA2) at (498,138.3);
\coordinate (rg1) at (522,1.5);
\coordinate (rg2) at (518,4.5);
\coordinate (rg3) at (525,8.5);
\coordinate (rg4) at (520,13.5);
\coordinate (rg5) at (530,19.5);
\coordinate (rg6) at (563,22.5);
\coordinate (rg7) at (518,31.5);
\coordinate (rg7a) at (556,33.5);
\coordinate (rg8) at (563,37.5);
\coordinate (rg9) at (525,44);
\coordinate (rg10) at (520,54);
\coordinate (rg11) at (530,63.5);
\coordinate (rg12) at (535,70.5);
\coordinate (rg13) at (522,75);
\coordinate (rg14) at (530,81.5);
\coordinate (ra1) at (505,93);
\coordinate (ra2) at (510,97.5);
\coordinate (ra3) at (515,102);
\coordinate (ra4) at (508,108.5);
\coordinate (ra5) at (520,113);
\coordinate (ra6) at (525,117.5);
\coordinate (ra7) at (512,124);
\coordinate (ra8) at (515,131);
\coordinate (ra9) at (520,137);
\coordinate (ra10) at (510,142.5);
\coordinate (ra11) at (518,150);
\coordinate (ra12) at (522,157.5);
\coordinate (ra13) at (515,162);
\coordinate (ra14) at (508,166.5);
\draw[br] (rR0) -- (rR);
\kids{rR}{rN100,rA2}
\kids{rN100}{rB2,rOut}
\kids{rB2}{rg1,rg2,RL7,rg3,rg4,rg5,rg6,RL24,RL25,RL26,rg7,rg8,rg9,rg10,rg11,rg12,rg13,rg14}
\kidsr{rg1}{1}{2}
\kidsr{rg2}{3}{6}
\kidsr{rg3}{8}{9}
\kidsr{rg4}{10}{17}
\kidsr{rg5}{18}{21}
\kidsr{rg6}{22}{23}
\kids{rg7}{RL27,RL28,RL29,RL30,RL31,RL32,rg7a,RL35,RL36}
\kidsr{rg7a}{33}{34}
\kidsr{rg8}{37}{38}
\kidsr{rg9}{39}{49}
\kidsr{rg10}{50}{58}
\kidsr{rg11}{59}{68}
\kidsr{rg12}{69}{72}
\kidsr{rg13}{73}{77}
\kidsr{rg14}{78}{85}
\kids{rOut}{rB4,rA4}
\kidsr{rB4}{86}{87}
\kidsr{rA4}{88}{91}
\kids{rA2}{ra1,RL95,ra2,ra3,ra4,ra5,ra6,ra7,ra8,ra9,ra10,ra11,ra12,ra13,ra14}
\kidsr{ra1}{92}{94}
\kidsr{ra2}{96}{98}
\kidsr{ra3}{99}{105}
\kidsr{ra4}{106}{111}
\kidsr{ra5}{112}{114}
\kidsr{ra6}{115}{120}
\kidsr{ra7}{121}{127}
\kidsr{ra8}{128}{134}
\kidsr{ra9}{135}{139}
\kidsr{ra10}{140}{145}
\kidsr{ra11}{146}{154}
\kidsr{ra12}{155}{160}
\kidsr{ra13}{161}{163}
\kidsr{ra14}{164}{169}
\end{scope}
\end{tikzpicture}
\end{document}
